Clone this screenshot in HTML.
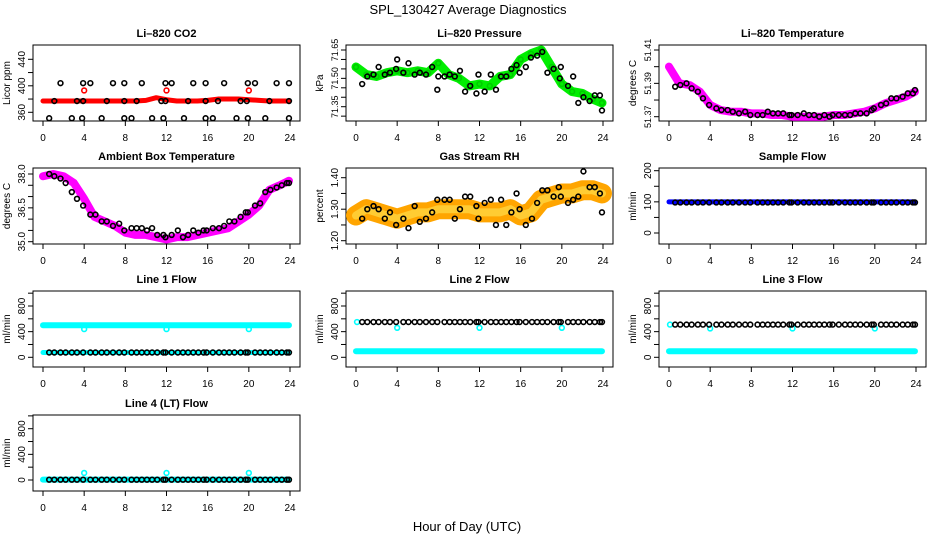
<!DOCTYPE html>
<html><head><meta charset="utf-8"><style>
html,body{margin:0;padding:0;background:#fff;}
svg{display:block;font-family:"Liberation Sans",sans-serif;}
</style></head><body>
<svg id="chart" width="936" height="540" viewBox="0 0 936 540">
<text x="468" y="14" text-anchor="middle" font-size="13">SPL_130427  Average Diagnostics</text>
<text x="467" y="531" text-anchor="middle" font-size="13">Hour of Day (UTC)</text>
</svg>
<script>
// ---- data ----
const hours = [0,1,2,3,4,5,6,7,8,9,10,11,12,13,14,15,16,17,18,19,20,21,22,23,23.9];
const xTicks = [0,4,8,12,16,20,24];
const blackX = [0.6,1.1,1.7,2.2,2.8,3.3,3.9,4.6,5.1,5.7,6.2,6.8,7.4,7.9,8.6,9.1,9.6,10.1,10.6,11.1,11.7,11.9,12.5,13.1,13.6,14.1,14.6,15.1,15.6,15.9,16.5,17.1,17.6,18.1,18.6,19.2,19.7,19.9,20.6,21.1,21.6,22.1,22.7,23.2,23.7,23.9];
const outlierX = [4,12,20];

const co2Red = [377,377,377,377,377,377,377,377,377,377,378,382,379,377,377,377,378,380,380,380,379,378,377,377,377];
const co2Outliers = [393,393,393];
const co2BlackX = [2.2,4,5.1,7.4,7.9,10.1,11.9,13,15.1,15.8,18.1,19.9,21.1,23.4,23.8, 1.7,3.9,4.6,6.8,7.9,9.6,11.9,12.5,14.6,15.8,17.6,19.9,20.6,22.7,23.9, 1.1,3.3,3.9,6.2,7.9,9.1,11.5,11.9,14.1,15.8,17,19.2,19.8,22,23.9, 0.6,2.8,3.8,5.7,7.9,8.6,10.6,11.7,13.7,15.8,16.5,18.8,19.9,21.6,23.9];
const co2BlackY = [468,468,468,468,468,468,468,468,468,468,468,468,468,468,468, 404,404,404,404,404,404,404,404,404,404,404,404,404,404,404, 377,377,377,377,377,377,377,377,377,377,377,377,377,377,377, 351,351,351,351,351,351,351,351,351,351,351,351,351,351,351];

const presGreen = [71.56,71.52,71.51,71.53,71.54,71.53,71.54,71.53,71.58,71.52,71.50,71.46,71.47,71.46,71.51,71.52,71.60,71.63,71.65,71.56,71.47,71.43,71.42,71.39,71.37];
const presBlackX = [0.6,1.1,1.7,2.2,2.8,3.3,3.9,4,4.6,5.1,5.7,6.2,6.8,7.4,7.9,8,8.6,9.1,9.6,10.1,10.6,11.1,11.7,11.9,12.5,13.1,13.6,14.1,14.6,15.1,15.6,15.9,16.5,17,17.6,18.1,18.6,19.2,19.8,19.9,20.6,21.1,21.6,22.1,22.7,23.2,23.7,23.9];
const presBlackY = [71.47,71.51,71.52,71.56,71.52,71.53,71.55,71.60,71.53,71.58,71.52,71.53,71.52,71.56,71.44,71.51,71.51,71.52,71.51,71.54,71.43,71.46,71.42,71.52,71.43,71.52,71.44,71.51,71.51,71.55,71.57,71.53,71.56,71.61,71.62,71.64,71.53,71.55,71.50,71.56,71.46,71.51,71.37,71.40,71.38,71.41,71.41,71.33];

const tempPink = [51.400,51.390,51.389,51.385,51.377,51.374,51.373,51.373,51.372,51.372,51.371,51.371,51.370,51.370,51.370,51.370,51.371,51.371,51.372,51.373,51.375,51.378,51.380,51.382,51.385];
const tempBlack = [51.388,51.389,51.390,51.387,51.385,51.381,51.377,51.375,51.374,51.374,51.373,51.372,51.373,51.371,51.371,51.371,51.373,51.372,51.372,51.372,51.371,51.371,51.371,51.372,51.371,51.371,51.370,51.371,51.370,51.371,51.371,51.371,51.371,51.372,51.372,51.372,51.374,51.375,51.377,51.378,51.381,51.381,51.382,51.384,51.384,51.386];

const ambPink = [37.9,38.0,37.9,37.6,36.9,36.1,35.9,35.7,35.4,35.3,35.3,35.2,35.1,35.2,35.2,35.3,35.4,35.5,35.6,35.9,36.2,36.6,37.3,37.5,37.7];
const ambBlack = [38.0,37.9,37.8,37.6,37.2,36.9,36.6,36.2,36.2,35.9,35.9,35.7,35.8,35.5,35.6,35.6,35.6,35.5,35.6,35.3,35.3,35.2,35.3,35.5,35.2,35.3,35.5,35.4,35.5,35.5,35.6,35.6,35.7,35.9,35.9,36.1,36.3,36.3,36.6,36.7,37.2,37.3,37.4,37.5,37.6,37.6];

const rhOrange = [1.28,1.30,1.29,1.28,1.27,1.28,1.29,1.29,1.30,1.30,1.30,1.30,1.29,1.29,1.29,1.30,1.28,1.29,1.33,1.34,1.35,1.35,1.36,1.36,1.35];
const rhBlack = [1.27,1.30,1.31,1.30,1.27,1.29,1.25,1.27,1.24,1.31,1.26,1.27,1.29,1.33,1.33,1.33,1.27,1.30,1.34,1.34,1.31,1.27,1.32,1.33,1.25,1.33,1.25,1.29,1.35,1.30,1.25,1.27,1.32,1.36,1.36,1.34,1.37,1.34,1.32,1.33,1.34,1.42,1.37,1.37,1.35,1.29];

const sampleBlue = [100,100,100,100,100,100,100,100,100,100,100,100,100,100,100,100,100,100,100,100,100,100,100,100,100];
const sampleBlack = 98;
const line1CyanHigh = [500,500,500,500,500,500,500,500,500,500,500,500,500,500,500,500,500,500,500,500,500,500,500,500,500];
const line1CyanLow = 75, line1Black = 75, line1Out = 440;
const line2Black = 550, line2CyanLow = 95, line2Out = 460;
const line3Black = 510, line3CyanLow = 95, line3Out = 450;
const line4Black = 5, line4Out = 110;

// ---- layout ----
const svg = document.getElementById('chart');
const NS = 'http://www.w3.org/2000/svg';
const colL = [33, 346, 659], W = 267;
const rowT = [45, 168, 291, 415], H = 76;
function el(tag, attrs, parent){ const e=document.createElementNS(NS,tag); for(const k in attrs) e.setAttribute(k,attrs[k]); (parent||svg).appendChild(e); return e; }

function panel(name, col, row, title, ylab, v1, p1, v2, p2, ticks, labels, lfs){
  const L = colL[col], T = rowT[row];
  const g = el('g',{});
  
  
  const xs = h => L + 10 + h * (247/24);
  const ys = v => p1 + (v - v1) * (p2 - p1) / (v2 - v1);
  const r = el('rect',{x:L,y:T,width:W,height:H,fill:'none',stroke:'#000','stroke-width':1},g);
  
  
  const t = el('text',{x:L+W/2,y:T-8,'text-anchor':'middle','font-size':11,'font-weight':'bold'},g);
  t.textContent = title;
  
  
  const yl = el('text',{x:0,y:0,'text-anchor':'middle','font-size':10,transform:`translate(${L-23},${T+H/2}) rotate(-90)`},g);
  yl.textContent = ylab;
  
  
  const xa = el('line',{x1:xs(0),x2:xs(24),y1:T+H,y2:T+H,stroke:'#000'},g);
  
  
  xTicks.forEach(h=>{
    el('line',{x1:xs(h),x2:xs(h),y1:T+H,y2:T+H+5,stroke:'#000'},g);
    const tl = el('text',{x:xs(h),y:T+H+20,'text-anchor':'middle','font-size':10},g);
    tl.textContent = h;
    
    
  });
  ticks.forEach(v=>{
    el('line',{x1:L-5,x2:L,y1:ys(v),y2:ys(v),stroke:'#000'},g);
  });
  labels.forEach(v=>{
    const tl = el('text',{x:0,y:0,'text-anchor':'middle','font-size':lfs||10,transform:`translate(${L-8},${ys(v[0])}) rotate(-90)`},g);
    tl.textContent = v[1];
    
    
  });
  const clip = 'c'+name;
  const cp = el('clipPath',{id:clip},g);
  el('rect',{x:L,y:T,width:W,height:H},cp);
  const pg = el('g',{'clip-path':`url(#${clip})`},g);
  return {xs, ys, g: pg};
}
function band(P, name, xArr, yArr, color, w){
  const pts = xArr.map((x,i)=>P.xs(x)+','+P.ys(yArr[i])).join(' ');
  const pl = el('polyline',{points:pts,fill:'none',stroke:color,'stroke-width':w,'stroke-linejoin':'round','stroke-linecap':'round'},P.g);
  
  
}
function pts(P, name, xArr, yArr, color, r, sw){
  const n = Math.min(xArr.length, yArr.length);
  for(let i=0;i<n;i++){
    const c = el('circle',{cx:P.xs(xArr[i]),cy:P.ys(yArr[i]),r:r||2.4,fill:'none',stroke:color,'stroke-width':sw||1.6},P.g);
    
    
  }
}
const rep = (v,n) => Array(n).fill(v);
function range(a,b,s){ const o=[]; for(let v=a; v<=b+1e-9; v+=s) o.push(+v.toFixed(4)); return o; }

let P = panel('co2',0,0,'Li–820 CO2','Licor ppm',360,112.3,440,59.3,range(360,440,20),[[360,'360'],[400,'400'],[440,'440']]);
band(P,'co2-red-band',hours,co2Red,'#ff0000',5);
pts(P,'co2-red-point',outlierX,co2Outliers,'#ff0000');
pts(P,'co2-black-point',co2BlackX,co2BlackY,'#000');

P = panel('pressure',1,0,'Li–820 Pressure','kPa',71.65,50,71.35,106.7,range(71.30,71.65,0.05),[[71.35,'71.35'],[71.5,'71.50'],[71.65,'71.65']],9);
band(P,'pressure-green-band',hours,presGreen,'#00ee00',9);
pts(P,'pressure-green-point',hours,presGreen,'#00cc00');
pts(P,'pressure-black-point',presBlackX,presBlackY,'#000');

P = panel('licor-temp',2,0,'Li–820 Temperature','degrees C',51.41,50,51.37,116.7,range(51.37,51.41,0.01),[[51.37,'51.37'],[51.39,'51.39'],[51.41,'51.41']],9);
band(P,'licor-temp-pink-band',hours,tempPink,'#ff00ff',8);
pts(P,'licor-temp-black-point',blackX,tempBlack,'#000');

P = panel('ambient-temp',0,1,'Ambient Box Temperature','degrees C',38,174,35,241.7,range(35,38,0.5),[[35,'35.0'],[36.5,'36.5'],[38,'38.0']]);
band(P,'ambient-pink-band',hours,ambPink,'#ff00ff',8);
pts(P,'ambient-black-point',blackX,ambBlack,'#000');

P = panel('gas-rh',1,1,'Gas Stream RH','percent',1.4,177.7,1.2,240.7,range(1.2,1.4,0.05),[[1.2,'1.20'],[1.3,'1.30'],[1.4,'1.40']]);
band(P,'rh-orange-band',hours,rhOrange,'#ffa500',20);
band(P,'rh-yellow-band',hours,rhOrange,'#ffcc33',8);
pts(P,'rh-black-point',blackX,rhBlack,'#000');

P = panel('sample-flow',2,1,'Sample Flow','ml/min',0,233,200,170.7,range(0,200,50),[[0,'0'],[100,'100'],[200,'200']]);
band(P,'sample-blue-band',hours,sampleBlue,'#0000ff',5);
pts(P,'sample-black-point',blackX,rep(sampleBlack,blackX.length),'#000');

const flowTicks = range(0,1000,200), flowLabels=[[0,'0'],[400,'400'],[800,'800']];
P = panel('line1-flow',0,2,'Line 1 Flow','ml/min',0,357.3,800,306,flowTicks,flowLabels);
band(P,'line1-cyan-high',hours,line1CyanHigh,'#00ffff',6);
band(P,'line1-cyan-low',hours,rep(line1CyanLow,hours.length),'#00ffff',5);
pts(P,'line1-cyan-outlier',outlierX,rep(line1Out,3),'#00ffff');
pts(P,'line1-black-point',blackX,rep(line1Black,blackX.length),'#000');

P = panel('line2-flow',1,2,'Line 2 Flow','ml/min',0,357.3,800,306,flowTicks,flowLabels);
band(P,'line2-cyan-low',hours,rep(line2CyanLow,hours.length),'#00ffff',6);
pts(P,'line2-cyan-outlier',outlierX,rep(line2Out,3),'#00ffff');
pts(P,'line2-cyan-start',[0.1],[line2Black],'#00ffff');
pts(P,'line2-black-point',blackX,rep(line2Black,blackX.length),'#000');

P = panel('line3-flow',2,2,'Line 3 Flow','ml/min',0,357.3,800,306,flowTicks,flowLabels);
band(P,'line3-cyan-low',hours,rep(line3CyanLow,hours.length),'#00ffff',6);
pts(P,'line3-cyan-outlier',outlierX,rep(line3Out,3),'#00ffff');
pts(P,'line3-cyan-start',[0.1],[line3Black],'#00ffff');
pts(P,'line3-black-point',blackX,rep(line3Black,blackX.length),'#000');

P = panel('line4-flow',0,3,'Line 4 (LT) Flow','ml/min',0,480,800,428.7,flowTicks,flowLabels);
band(P,'line4-cyan-band',hours,rep(line4Black,hours.length),'#00ffff',6);
pts(P,'line4-cyan-outlier',outlierX,rep(line4Out,3),'#00ffff');
pts(P,'line4-black-point',blackX,rep(line4Black,blackX.length),'#000');
</script>
</body></html>
